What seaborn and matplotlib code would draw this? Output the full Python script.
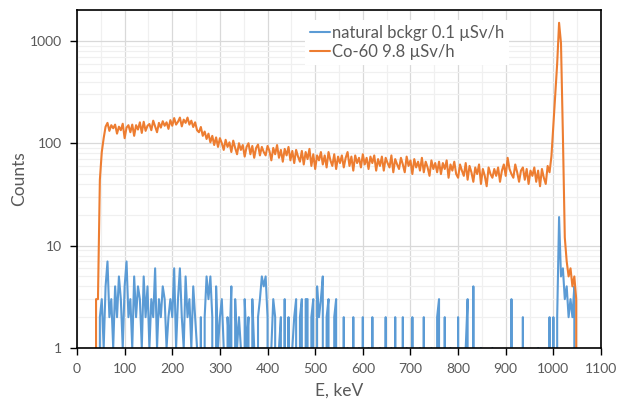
import numpy as np
import pandas as pd
import matplotlib
matplotlib.use("Agg")
import matplotlib.pyplot as plt
from matplotlib.ticker import MultipleLocator, LogLocator, NullFormatter, FixedLocator
import seaborn as sns

sns.set_style("white")
plt.rcParams['font.family'] = ['Lato', 'DejaVu Sans']

# Const
bck_color = "#5B9BD5"
co_color = "#ED7D31"
text_color = "#595959"

# Energy channels, keV (4 keV bins)
energy = np.arange(36, 1053, 4)

# Co-60 source, 9.8 uSv/h
co60 = [
    0, 3, 3, 44, 82, 112, 145, 158, 132, 150,
    140, 152, 124, 145, 134, 155, 112, 142, 150, 128,
    152, 118, 150, 136, 160, 126, 162, 132, 148, 154,
    134, 166, 146, 128, 158, 142, 164, 148, 160, 138,
    168, 148, 176, 152, 162, 178, 146, 170, 158, 178,
    152, 166, 144, 160, 134, 128, 144, 118, 130, 110,
    124, 102, 118, 96, 114, 92, 112, 100, 86, 108,
    92, 102, 82, 106, 90, 78, 100, 86, 96, 74,
    92, 100, 78, 94, 72, 90, 97, 76, 92, 82,
    76, 94, 84, 68, 90, 78, 96, 72, 86, 66,
    88, 76, 92, 68, 84, 64, 86, 74, 66, 84,
    62, 82, 70, 88, 60, 78, 56, 76, 68, 82,
    62, 76, 58, 82, 68, 60, 78, 56, 74, 64,
    76, 58, 72, 82, 60, 74, 54, 76, 64, 72,
    58, 78, 62, 72, 56, 74, 64, 76, 54, 70,
    60, 74, 54, 72, 64, 58, 76, 52, 70, 62,
    56, 72, 62, 52, 74, 60, 68, 50, 70, 58,
    66, 54, 72, 52, 66, 58, 48, 68, 56, 64,
    52, 66, 50, 64, 56, 68, 46, 62, 54, 66,
    50, 46, 62, 54, 48, 64, 44, 60, 52, 42,
    58, 50, 62, 40, 56, 48, 38, 58, 50, 46,
    56, 48, 58, 42, 54, 62, 48, 72, 56, 50,
    46, 62, 52, 42, 54, 58, 44, 56, 40, 54,
    48, 58, 42, 54, 38, 56, 46, 40, 60, 52,
    75, 150, 300, 600, 1500, 950, 120, 12, 7, 5,
    6, 4, 5, 3, 0,
]

# natural background, 0.1 uSv/h
background = [
    0, 0, 0, 2, 3, 1, 4, 7, 2, 3,
    1, 4, 2, 5, 3, 1, 4, 7, 2, 3,
    1, 5, 2, 4, 3, 1, 5, 2, 4, 1,
    3, 2, 6, 1, 3, 2, 4, 3, 1, 2,
    3, 2, 6, 1, 3, 6, 2, 1, 5, 2,
    3, 1, 4, 2, 1, 0, 2, 0, 2, 5,
    3, 5, 2, 0, 4, 1, 2, 3, 1, 0,
    2, 1, 4, 0, 3, 1, 2, 1, 0, 3,
    1, 2, 0, 3, 1, 0, 2, 3, 5, 4,
    5, 2, 0, 1, 3, 2, 0, 1, 2, 0,
    3, 0, 2, 0, 1, 2, 3, 0, 2, 3,
    0, 3, 3, 0, 2, 3, 0, 4, 2, 3,
    5, 0, 2, 3, 0, 0, 2, 3, 0, 0,
    0, 2, 0, 1, 0, 0, 2, 0, 0, 1,
    0, 2, 0, 0, 1, 0, 2, 0, 0, 0,
    1, 0, 0, 2, 0, 0, 1, 0, 2, 0,
    0, 0, 2, 0, 1, 0, 0, 2, 0, 0,
    0, 1, 0, 2, 0, 0, 0, 1, 0, 0,
    2, 3, 0, 0, 2, 0, 0, 1, 0, 0,
    0, 2, 0, 0, 0, 1, 3, 0, 0, 4,
    0, 0, 0, 1, 0, 0, 0, 0, 0, 1,
    0, 0, 0, 0, 0, 0, 0, 0, 0, 3,
    0, 0, 0, 0, 0, 2, 0, 0, 0, 0,
    0, 0, 0, 1, 0, 0, 0, 0, 0, 2,
    0, 2, 0, 2, 19, 5, 6, 3, 4, 2,
    3, 2, 4, 0, 0,
]

labels = ["natural bckgr 0.1 µSv/h", "Co-60 9.8 µSv/h"]

data = pd.DataFrame({"E": energy, "bck": background, "co": co60})

fig = plt.figure(figsize=(6.19, 4.01), dpi=100)
ax = fig.add_axes([77 / 619, 1 - 348 / 401, 524 / 619, 338 / 401])

sns.lineplot(data=data, x="E", y="bck", ax=ax, color=bck_color, lw=1.5,
             estimator=None, sort=False, label=labels[0])
sns.lineplot(data=data, x="E", y="co", ax=ax, color=co_color, lw=1.5,
             estimator=None, sort=False, label=labels[1])

ax.set_yscale("log")
ax.set_ylim(1, 2000)
ax.set_xlim(0, 1100)

ax.xaxis.set_major_locator(MultipleLocator(100))
ax.xaxis.set_minor_locator(MultipleLocator(50))
ax.yaxis.set_major_locator(FixedLocator([1, 10, 100, 1000]))
ax.yaxis.set_major_formatter(plt.FuncFormatter(lambda v, p: "%d" % v))
ax.yaxis.set_minor_locator(LogLocator(base=10, subs=np.arange(2, 10)))
ax.yaxis.set_minor_formatter(NullFormatter())

ax.grid(which="major", color="#D9D9D9", lw=0.9)
ax.grid(which="minor", color="#F0F0F0", lw=0.9)
ax.set_axisbelow(True)

for s in ax.spines.values():
    s.set_color("black")
    s.set_linewidth(1.2)

ax.tick_params(which="major", direction="out", length=5, width=1, color="black",
               labelsize=10, labelcolor=text_color, bottom=True, left=True, pad=6)
ax.tick_params(which="minor", length=0)

ax.set_xlabel("E, keV", fontsize=12.5, color=text_color, labelpad=5)
ax.set_ylabel("Counts", fontsize=12.5, color=text_color, labelpad=2)

leg = ax.legend(loc="upper left", bbox_to_anchor=(305 / 619, 1 - 20 / 401),
                bbox_transform=fig.transFigure, fontsize=12, frameon=True,
                facecolor="white", edgecolor="none", framealpha=1,
                handlelength=1.2, handletextpad=0.1, borderaxespad=0,
                borderpad=0.3, labelspacing=0.2, fancybox=False)
for t in leg.get_texts():
    t.set_color(text_color)

fig.savefig("out.png", dpi=100)
